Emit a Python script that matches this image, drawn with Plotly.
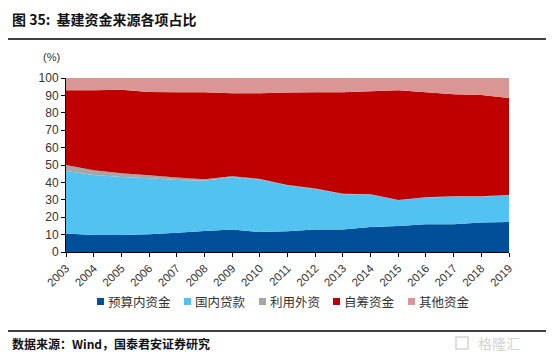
import plotly.graph_objects as go

years = list(range(2003, 2020))
budget = [10.6, 9.8, 9.8, 10.2, 11.1, 12.1, 12.9, 11.5, 11.9, 13.0, 13.0, 14.4, 15.0, 15.9, 15.9, 16.9, 17.2]
loans = [36.0, 34.5, 33.3, 32.2, 30.3, 28.9, 30.2, 30.1, 26.3, 23.2, 20.2, 18.6, 14.7, 15.4, 15.9, 14.9, 15.4]
foreign = [3.4, 2.7, 2.1, 1.7, 1.4, 0.8, 0.4, 0.4, 0.3, 0.3, 0.3, 0.2, 0.2, 0.2, 0.2, 0.2, 0.2]
selfraised = [42.9, 45.9, 48.1, 47.9, 49.0, 50.0, 47.7, 49.2, 53.1, 55.3, 58.3, 59.2, 63.0, 60.3, 58.6, 58.2, 55.7]
other = [7.1, 7.1, 6.7, 8.0, 8.2, 8.2, 8.8, 8.8, 8.4, 8.2, 8.2, 7.6, 7.1, 8.2, 9.4, 9.8, 11.5]

names = ["预算内资金", "国内贷款", "利用外资", "自筹资金", "其他资金"]
colors = ["#004F98", "#52C3F1", "#A6A6A6", "#C00000", "#DA9694"]
series = [budget, loans, foreign, selfraised, other]

# page body has an 8px margin; work in window pixels and compensate
OFF = 8
W, H = 554 - OFF, 355 - OFF
plot_x0, plot_x1, plot_y0, plot_y1 = 66, 509, 78, 252  # window pixels
L = plot_x0 - OFF
T = plot_y0 - OFF
R = W - (plot_x1 - OFF)
B = H - (plot_y1 - OFF)
pw = W - L - R
ph = H - T - B


def px(x):
    return (x - OFF - L) / pw


def py(y):
    return (H - B - (y - OFF)) / ph


fig = go.Figure()
for n, c, s in zip(names, colors, series):
    fig.add_trace(go.Scatter(x=years, y=s, name=n, mode="none", stackgroup="one",
                             fillcolor=c, line=dict(width=0), showlegend=False))

cjk = "Noto Sans CJK SC"
annotations = [
    dict(text="<b>图 35:  基建资金来源各项占比</b>", x=px(10), y=py(19),
         font=dict(family=cjk, size=14, color="#111"), xanchor="left"),
    dict(text="(%)", x=px(51), y=py(57), xanchor="center",
         font=dict(family="Liberation Sans", size=11, color="#333")),
    dict(text="<b>数据来源：Wind，国泰君安证券研究</b>", x=px(10), y=py(343), xanchor="left",
         font=dict(family=cjk, size=12, color="#111")),
    dict(text="格隆汇", x=px(522), y=py(343), xanchor="right",
         font=dict(family=cjk, size=14, color="#D3D3D3")),
]
shapes = [
    dict(type="line", x0=px(7), x1=px(548), y0=py(39), y1=py(39),
         line=dict(color="black", width=1.5)),
    dict(type="line", x0=px(7), x1=px(548), y0=py(331), y1=py(331),
         line=dict(color="black", width=1.5)),
    dict(type="rect", x0=px(456), x1=px(468), y0=py(337), y1=py(349),
         line=dict(color="#D3D3D3", width=1.5)),
]

# manual legend (legend layout positions, window pixels)
legend_x = [97, 184, 259, 333, 408]
legend_y = 301.5
for n, c, lx in zip(names, colors, legend_x):
    shapes.append(dict(type="rect", x0=px(lx), x1=px(lx + 7), y0=py(legend_y - 3.5),
                       y1=py(legend_y + 3.5), fillcolor=c, line=dict(width=0)))
    annotations.append(dict(text=n, x=px(lx + 9), y=py(legend_y), xanchor="left",
                            font=dict(family=cjk, size=12.5, color="#333")))

for a in annotations:
    a.update(xref="paper", yref="paper", showarrow=False, yanchor="middle")
for s in shapes:
    s.update(xref="paper", yref="paper")

fig.update_layout(
    width=W, height=H,
    margin=dict(l=L, r=R, t=T, b=B, autoexpand=False),
    paper_bgcolor="white", plot_bgcolor="white",
    showlegend=False,
    xaxis=dict(range=[2003, 2019], tickvals=years, ticktext=[str(y) for y in years],
               tickangle=-45, ticks="outside", ticklen=4, tickcolor="black",
               showline=True, linecolor="black", linewidth=1, showgrid=False, zeroline=False,
               automargin=False,
               tickfont=dict(family="Liberation Sans", size=11.5, color="#333")),
    yaxis=dict(range=[0, 100], dtick=10, ticks="outside", ticklen=4, tickcolor="black",
               showline=True, linecolor="black", linewidth=1, showgrid=False, zeroline=False,
               automargin=False,
               tickfont=dict(family="Liberation Sans", size=12, color="#333")),
    annotations=annotations,
    shapes=shapes,
)

fig.write_html("out.html")
